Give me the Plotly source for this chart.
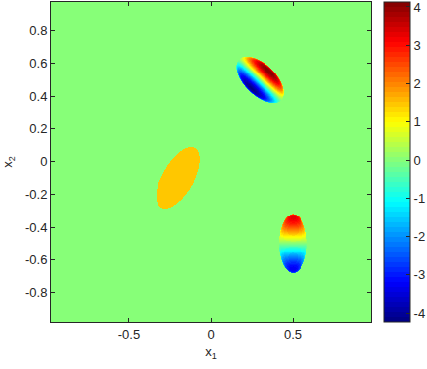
import numpy as np
import plotly.graph_objects as go

# ---- data ----
x1_range = [-0.975, 0.975]
x2_range = [-0.98, 0.975]
z_min, z_max = -4.23, 4.13
background_value = 0.0

ellipse_x1 = [-0.2, 0.3, 0.5]          # centres
ellipse_x2 = [-0.1, 0.5, -0.5]
ellipse_a = [0.21, 0.178, 0.18]         # semi-major
ellipse_b = [0.095, 0.095, 0.085]       # semi-minor
ellipse_angle = [60, -44, 90]           # major-axis angle, degrees
ellipse_kind = ["constant", "dipole_minor", "dipole_major"]
ellipse_amp = [1.5, 4.15, 3.3]

x_ticks = [-0.5, 0, 0.5]
x_tick_text = ["-0.5", "0", "0.5"]
y_ticks = [-0.8, -0.6, -0.4, -0.2, 0, 0.2, 0.4, 0.6, 0.8]
y_tick_text = ["-0.8", "-0.6", "-0.4", "-0.2", "0", "0.2", "0.4", "0.6", "0.8"]
cb_ticks = [-4, -3, -2, -1, 0, 1, 2, 3, 4]
cb_tick_text = ["-4", "-3", "-2", "-1", "0", "1", "2", "3", "4"]

# ---- build the field ----
n = 330
x1 = np.linspace(x1_range[0], x1_range[1], n)
x2 = np.linspace(x2_range[0], x2_range[1], n)
X1, X2 = np.meshgrid(x1, x2)
Z = np.full_like(X1, background_value)

for cx, cy, a, b, ang, kind, amp in zip(ellipse_x1, ellipse_x2, ellipse_a, ellipse_b,
                                        ellipse_angle, ellipse_kind, ellipse_amp):
    th = np.deg2rad(ang)
    dx, dy = X1 - cx, X2 - cy
    w = dx * np.cos(th) + dy * np.sin(th)      # along major
    u = -dx * np.sin(th) + dy * np.cos(th)     # along minor
    r2 = (w / a) ** 2 + (u / b) ** 2
    inside = r2 <= 1
    if kind == "constant":
        v = np.full_like(X1, amp)
    elif kind == "dipole_minor":
        s = u / b
        v = amp * s * np.clip(1 - r2, 0, None) ** 0.3 / 0.589
    else:
        s = w / a
        v = amp * s * np.clip(1 - r2, 0, None) ** 0.15 / 0.704
    Z = np.where(inside, v, Z)

# ---- MATLAB-style jet(64), stepped ----
def jet(t):
    r = np.clip(min(4 * t - 1.5, -4 * t + 4.5), 0, 1)
    g = np.clip(min(4 * t - 0.5, -4 * t + 3.5), 0, 1)
    bl = np.clip(min(4 * t + 0.5, -4 * t + 2.5), 0, 1)
    return f"rgb({int(round(r*255))},{int(round(g*255))},{int(round(bl*255))})"

N = 64
colorscale = []
for i in range(N):
    c = jet((i + 0.5) / N)
    colorscale.append([i / N, c])
    colorscale.append([(i + 1) / N, c])

font = dict(family="Liberation Sans, Arial, sans-serif", size=13, color="#262626")

fig = go.Figure(go.Heatmap(
    x=x1, y=x2, z=Z, zmin=z_min, zmax=z_max, colorscale=colorscale, zsmooth=False,
    colorbar=dict(
        x=1.04, xanchor="left", xref="paper", y=0.5, yanchor="middle", len=1.0,
        thickness=26, ypad=0, xpad=0,
        tickvals=cb_ticks, ticktext=cb_tick_text, ticks="inside", ticklen=4,
        tickcolor="#262626", outlinewidth=1, outlinecolor="#262626", tickfont=font,
        ticklabeloverflow="allow",
    ),
))

axis_common = dict(
    showline=True, linecolor="#262626", linewidth=1, mirror="ticks",
    ticks="inside", ticklen=4, tickcolor="#262626", showgrid=False, zeroline=False,
    tickfont=font, automargin=False,
)
fig.update_xaxes(range=x1_range, tickvals=x_ticks, ticktext=x_tick_text,
                 title=dict(text="x<sub>1</sub>", font=font, standoff=6), **axis_common)
fig.update_yaxes(range=x2_range, tickvals=y_ticks, ticktext=y_tick_text,
                 title=dict(text="x<sub>2</sub>", font=font, standoff=12), **axis_common)

fig.update_layout(
    width=427, height=369,
    margin=dict(l=51, r=56, t=2, b=47, autoexpand=False),
    paper_bgcolor="white", plot_bgcolor="white",
    font=font,
)

fig.write_html("out.html", config={"displayModeBar": False},
               post_script="document.body.style.margin='0';")
